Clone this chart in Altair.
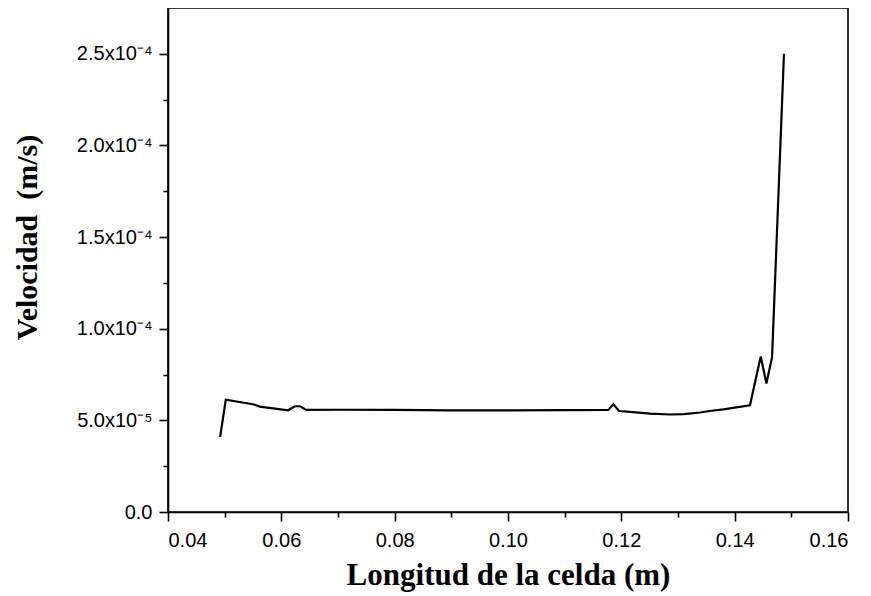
import altair as alt
import pandas as pd

# Cell length (m)
x_vals = [0.0492, 0.0502, 0.0550, 0.0562, 0.0612, 0.0624, 0.0633, 0.0644,
          0.0700, 0.0800, 0.0900, 0.1000, 0.1100, 0.1177, 0.1186, 0.1196,
          0.1220, 0.1251, 0.1286, 0.1310, 0.1339, 0.1356, 0.1380, 0.1427,
          0.1446, 0.1456, 0.1466, 0.1487]
# Velocity (m/s)
v_vals = [4.10e-5, 6.13e-5, 5.88e-5, 5.75e-5, 5.55e-5, 5.77e-5, 5.77e-5, 5.57e-5,
          5.58e-5, 5.57e-5, 5.55e-5, 5.55e-5, 5.56e-5, 5.57e-5, 5.88e-5, 5.51e-5,
          5.45e-5, 5.37e-5, 5.32e-5, 5.34e-5, 5.43e-5, 5.51e-5, 5.60e-5, 5.82e-5,
          8.49e-5, 7.01e-5, 8.45e-5, 2.50e-4]

y_tick_values = [i * 2.5e-5 for i in range(11)]
y_tick_labels = ["0.0", "", "5.0x10⁻⁵", "", "1.0x10⁻⁴", "", "1.5x10⁻⁴", "",
                 "2.0x10⁻⁴", "", "2.5x10⁻⁴"]
x_tick_values = [round(0.04 + i * 0.01, 2) for i in range(13)]
x_tick_labels = ["0.04", "", "0.06", "", "0.08", "", "0.10", "", "0.12", "",
                 "0.14", "", "0.16"]

df = pd.DataFrame({"x": x_vals, "v": v_vals})

def js_list(items):
    return "[" + ",".join("'" + s + "'" for s in items) + "]"

label_font = "Liberation Sans"
title_font = "Liberation Serif"

x_axis = alt.Axis(
    values=x_tick_values,
    labelExpr=js_list(x_tick_labels) + "[round((datum.value-0.04)/0.01)]",
    tickSize={"condition": {"test": "round((datum.value-0.04)/0.01) % 2 == 0", "value": 9}, "value": 5},
    labelPadding=9,
    labelFontSize=20,
    labelFont=label_font,
    title="Longitud de la celda (m)",
    titleFont=title_font,
    titleFontSize=31,
    titleFontWeight="bold",
    titleBaseline="alphabetic",
    titleY=72,
    labelOverlap=False,
)

y_axis = alt.Axis(
    values=y_tick_values,
    labelExpr=js_list(y_tick_labels) + "[round(datum.value/2.5e-5)]",
    tickSize={"condition": {"test": "round(datum.value/2.5e-5) % 2 == 0", "value": 9}, "value": 5},
    labelPadding=7,
    labelFontSize=20,
    labelFont=label_font,
    title="Velocidad\u00a0\u00a0(m/s)",
    titleFont=title_font,
    titleFontSize=30,
    titleFontWeight="bold",
    titleBaseline="alphabetic",
    titleX=-132,
    titleY=229,
    labelOverlap=False,
)

chart = (
    alt.Chart(df)
    .mark_line(color="black", strokeWidth=2.2)
    .encode(
        x=alt.X("x:Q", scale=alt.Scale(domain=[0.04, 0.16], nice=False, zero=False), axis=x_axis),
        y=alt.Y("v:Q", scale=alt.Scale(domain=[0, 2.75e-4], nice=False, zero=False), axis=y_axis),
    )
    .properties(
        width=680,
        height=504,
        autosize=alt.AutoSizeParams(type="none"),
        padding={"left": 160, "top": 0, "right": 15, "bottom": 84},
        background="white",
    )
    .configure_view(stroke="black", strokeWidth=1.6)
    .configure_axis(
        grid=False,
        domainColor="black",
        domainWidth=1.6,
        tickColor="black",
        tickWidth=1.6,
        labelColor="black",
        titleColor="black",
    )
)

chart.save("out.html", embed_options={"renderer": "svg", "actions": False})
